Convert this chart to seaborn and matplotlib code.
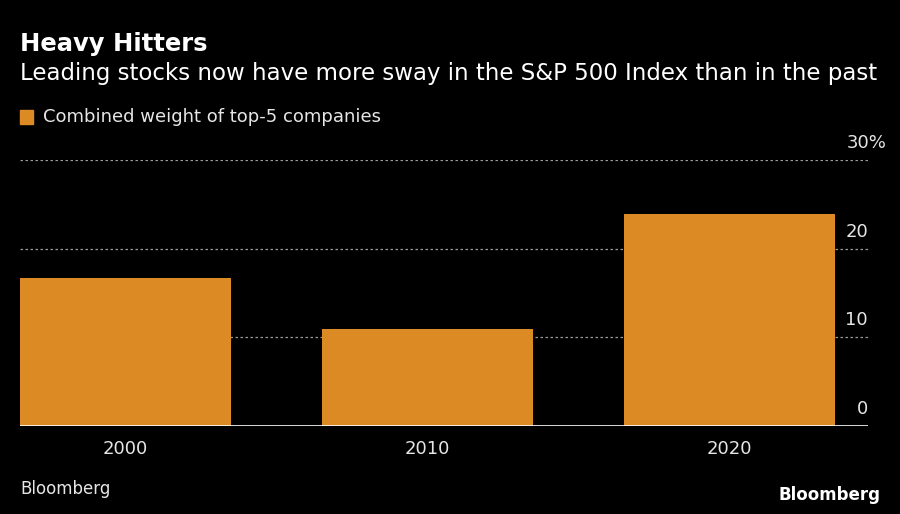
import matplotlib
matplotlib.use("Agg")
import matplotlib.pyplot as plt
import matplotlib.transforms as mtransforms
from matplotlib.patches import Rectangle
import seaborn as sns

years = ["2000", "2010", "2020"]
weights = [16.7, 10.9, 23.9]
y_ticks = [0, 10, 20, 30]
y_labels = ["0", "10", "20", "30%"]

orange = "#DC8A24"
bg = "black"

sns.set_style("dark")
plt.rcParams["font.family"] = ["DejaVu Sans"]

fig = plt.figure(figsize=(9, 5.14), dpi=100, facecolor=bg)
ax = fig.add_axes([20 / 900, 1 - 426 / 514, 848 / 900, (426 - 160) / 514])
ax.set_facecolor(bg)

sns.barplot(x=years, y=weights, color=orange, saturation=1, width=0.7,
            edgecolor=orange, linewidth=0, ax=ax, zorder=2)

ax.set_xlim(-0.35, 2.46)
ax.set_ylim(0, 30)
for s in ax.spines.values():
    s.set_visible(False)
ax.axhline(0, color="white", lw=1.2, zorder=5)
for t in y_ticks[1:]:
    ax.axhline(t, color="#9a9a9a", lw=0.9, ls=(0, (2, 2)), zorder=0)

ax.set_yticks([])
ax.set_xlabel("")
ax.set_ylabel("")
ax.tick_params(axis="x", length=0, pad=10, labelsize=13, labelcolor="#e6e6e6")
ax.grid(False)

trans = mtransforms.blended_transform_factory(ax.transAxes, ax.transData)
for t, lab in zip(y_ticks, y_labels):
    if lab.endswith("%"):
        ax.text(0.975, t + 0.9, lab, transform=trans, ha="left", va="bottom",
                color="#e6e6e6", fontsize=13)
    else:
        ax.text(1.0, t + 0.9, lab, transform=trans, ha="right", va="bottom",
                color="#e6e6e6", fontsize=13)

fig.text(20 / 900, 1 - 44 / 514, "Heavy Hitters", color="white", fontsize=17.5,
         fontweight="bold", va="center", ha="left")
fig.text(20 / 900, 1 - 74 / 514,
         "Leading stocks now have more sway in the S&P 500 Index than in the past",
         color="white", fontsize=16.5, va="center", ha="left")
fig.patches.append(Rectangle((20 / 900, 1 - 124 / 514), 13 / 900, 14 / 514,
                             transform=fig.transFigure, color=orange))
fig.text(43 / 900, 1 - 117 / 514, "Combined weight of top-5 companies",
         color="#e6e6e6", fontsize=13, va="center", ha="left")
fig.text(20 / 900, 1 - 489 / 514, "Bloomberg", color="#e6e6e6", fontsize=12,
         va="center", ha="left")
fig.text(880 / 900, 1 - 495 / 514, "Bloomberg", color="white", fontsize=12,
         fontweight="bold", va="center", ha="right")

fig.savefig("out.png", dpi=100, facecolor=bg)
